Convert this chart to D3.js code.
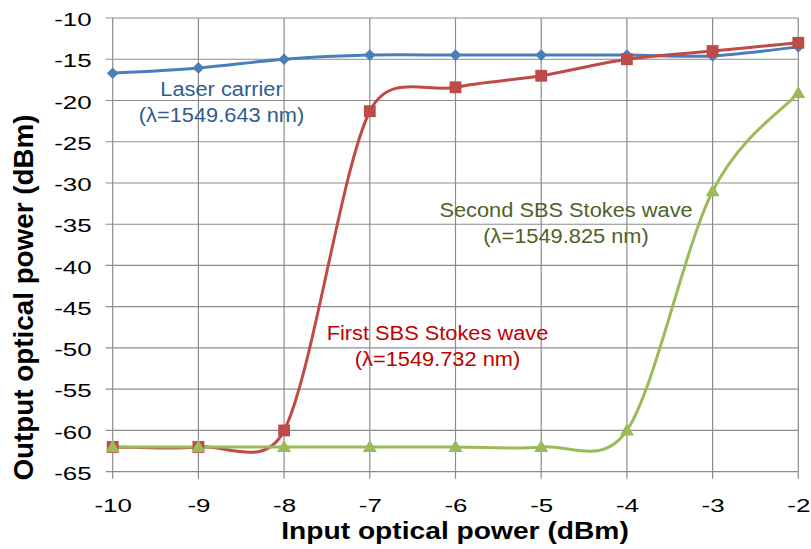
<!DOCTYPE html>
<html><head><meta charset="utf-8">
<script src="https://cdn.jsdelivr.net/npm/d3@7"></script>
<style>
html,body{margin:0;padding:0;background:#fff;}
text{font-family:"Liberation Sans",Arial,sans-serif;}
</style></head>
<body>
<svg id="c" width="811" height="549"></svg>
<script>
const xValues = [-10, -9, -8, -7, -6, -5, -4, -3, -2];
const laserCarrier = [-16.7, -16.05, -15.0, -14.5, -14.5, -14.5, -14.5, -14.6, -13.5];
const firstStokes  = [-62, -62, -60, -21.3, -18.4, -17.0, -15.0, -14.0, -13.0];
const secondStokes = [-62, -62, -62, -62, -62, -62, -60, -31, -19.1];
const xTicks = [-10, -9, -8, -7, -6, -5, -4, -3, -2];
const yTicks = [-10, -15, -20, -25, -30, -35, -40, -45, -50, -55, -60, -65];
const xTitle = "Input optical power (dBm)";
const yTitle = "Output optical power (dBm)";
const labels = [
  {lines:["Laser carrier","(λ=1549.643 nm)"], x:-8.73, y:-19.46, color:"#2F5C8F"},
  {lines:["Second SBS Stokes wave","(λ=1549.825 nm)"], x:-4.71, y:-34.15, color:"#4F6228"},
  {lines:["First SBS Stokes wave","(λ=1549.732 nm)"], x:-6.21, y:-49.0, color:"#C00000"}
];

const svg = d3.select("#c");
svg.append("rect").attr("width",811).attr("height",549).attr("fill","#fff");
const x = d3.scaleLinear().domain([-10,-2]).range([112.7,798.3]);
const y = d3.scaleLinear().domain([-10,-65]).range([18,471.7]);

function stretch(sel,k){
  sel.each(function(){
    const l=this.getComputedTextLength();
    d3.select(this).attr("textLength",l*k).attr("lengthAdjust","spacingAndGlyphs");
  });
}
const fmt = d => String(d);

// Excel-style smoothed curve (Bezier with clamped 1/6 tangents)
function ExcelSmooth(context){ this._context = context; }
ExcelSmooth.prototype = {
  areaStart(){}, areaEnd(){},
  lineStart(){ this._p = []; },
  point(px,py){ this._p.push([+px,+py]); },
  lineEnd(){
    const p = this._p, c = this._context, n = p.length;
    if(!n) return;
    c.moveTo(p[0][0],p[0][1]);
    const dist=(a,b)=>Math.hypot(a[0]-b[0],a[1]-b[1]);
    for(let i=0;i<n-1;i++){
      const P0=p[i-1]||p[i], P1=p[i], P2=p[i+1], P3=p[i+2]||p[i+1];
      const d02=dist(P0,P2), d12=dist(P1,P2), d13=dist(P1,P3);
      const f0 = (d02/6 < d12/2 || d02===0) ? 1/6 : (d12/2)/d02;
      const f3 = (d13/6 < d12/2 || d13===0) ? 1/6 : (d12/2)/d13;
      c.bezierCurveTo(P1[0]+f0*(P2[0]-P0[0]), P1[1]+f0*(P2[1]-P0[1]),
                      P2[0]-f3*(P3[0]-P1[0]), P2[1]-f3*(P3[1]-P1[1]),
                      P2[0], P2[1]);
    }
  }
};
const curveExcel = ctx => new ExcelSmooth(ctx);

const grid = svg.append("g").attr("stroke","#8c8c8c").attr("stroke-width",1.2);
grid.selectAll("line.h").data(yTicks).join("line")
  .attr("x1",x(-10)-7).attr("x2",x(-2)).attr("y1",d=>y(d)).attr("y2",d=>y(d));
grid.selectAll("line.v").data(xTicks).join("line")
  .attr("y1",y(-10)).attr("y2",y(-65)+7).attr("x1",d=>x(d)).attr("x2",d=>x(d));

// axes (labels)
const yAxis = svg.append("g").attr("transform",`translate(${x(-10)},0)`)
  .call(d3.axisLeft(y).tickValues(yTicks).tickSize(0).tickPadding(21).tickFormat(fmt));
yAxis.select(".domain").remove();
yAxis.selectAll("text").attr("font-size",18.8).attr("fill","#000").attr("dy",null).attr("y",7.6)
  .attr("font-family","Liberation Sans, Arial");
stretch(yAxis.selectAll("text"),1.38);

const xAxis = svg.append("g").attr("transform",`translate(0,${y(-65)})`)
  .call(d3.axisBottom(x).tickValues(xTicks).tickSize(0).tickPadding(0).tickFormat(fmt));
xAxis.select(".domain").remove();
xAxis.selectAll("text").attr("font-size",18.8).attr("fill","#000").attr("dy",null).attr("y",40)
  .attr("font-family","Liberation Sans, Arial");
stretch(xAxis.selectAll("text"),1.38);

// titles
const xt = svg.append("text").attr("x",455).attr("y",538.5).attr("text-anchor","middle")
  .attr("font-size",23.3).attr("font-weight","bold").attr("fill","#000").text(xTitle);
stretch(xt,1.21);
const yt = svg.append("text").attr("transform","translate(32.5,297.5) rotate(-90)").attr("text-anchor","middle")
  .attr("font-size",27).attr("font-weight","bold").attr("fill","#000").text(yTitle);
stretch(yt,1.03);

// lines
const line = d3.line().x((d,i)=>x(xValues[i])).y(d=>y(d)).curve(curveExcel);
const series = [
  {v:laserCarrier, c:"#4A7EBB", m:"diamond"},
  {v:firstStokes, c:"#BE4B48", m:"square"},
  {v:secondStokes, c:"#9BBB59", m:"triangle"}
];
series.forEach(s=>{
  svg.append("path").attr("d",line(s.v)).attr("fill","none").attr("stroke",s.c).attr("stroke-width",3)
    .attr("stroke-linejoin","round").attr("stroke-linecap","round");
});
series.forEach(s=>{
  const g = svg.append("g").attr("fill",s.c);
  s.v.forEach((v,i)=>{
    const cx=x(xValues[i]), cy=y(v);
    if(s.m==="diamond"){
      g.append("path").attr("d",d3.symbol().type(d3.symbolSquare).size(68)())
        .attr("transform",`translate(${cx},${cy}) rotate(45)`);
    } else if(s.m==="square"){
      g.append("path").attr("d",d3.symbol().type(d3.symbolSquare).size(140)())
        .attr("transform",`translate(${cx},${cy})`);
    } else {
      g.append("path").attr("d",d3.symbol().type(d3.symbolTriangle).size(85)())
        .attr("transform",`translate(${cx},${cy+1})`);
    }
  });
});

// annotations
labels.forEach(L=>{
  L.lines.forEach((t,i)=>{
    const tx = svg.append("text").attr("x",x(L.x)).attr("y",y(L.y)+i*26)
      .attr("text-anchor","middle").attr("font-size",20).attr("fill",L.color).text(t);
    stretch(tx,1.09);
  });
});
</script>
</body></html>
